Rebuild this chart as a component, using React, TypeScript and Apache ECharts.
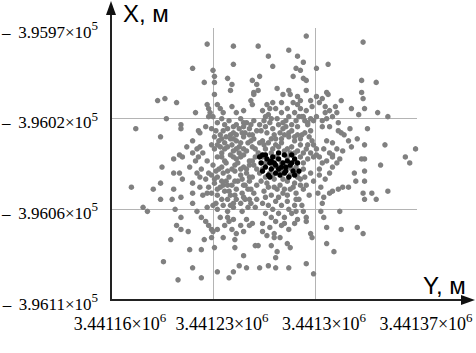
import React, { useEffect, useRef } from "react";
import * as echarts from "echarts";

// Local coordinate bases (metres). Horizontal axis = Y (easting), vertical axis = X (northing).
const Y_BASE = 3441000;
const X_BASE = -396000;

// Axis tick values (metres)
const yTickValues = [3441160, 3441230, 3441300, 3441370];
const xTickValues = [-396108, -396063, -396018, -395973];

// Gray measurement points: [Y offset from Y_BASE, X offset from X_BASE] in metres
const grayOuterNW: [number, number][] = [
  [226,19],[244,18],[261,18],[244,9],[216,7],[230,6],[231,3],[231,0],[240,2],[224,0],
  [243,-1],[257,1],[260,-1],[242,-4],[258,-5],[258,-6],[231,-6],[192,-9],[197,-8],[205,-10],
  [226,-11],[227,-13],[228,-15],[218,-15],[233,-11],[235,-13],[237,-15],[243,-12],[246,-15],[251,-14],
  [256,-9],[257,-11],[198,-18],[177,-23],[208,-21],[208,-23],[220,-24],[221,-25],[225,-22],[194,-27],
  [216,-29],[212,-32],[219,-33],[221,-32],[203,-38],[207,-36],[209,-37],[216,-35],[220,-37],[227,-17],[230,-17],
];
const grayOuterNE: [number, number][] = [
  [294,23],[333,20],[282,16],[288,13],[268,13],[271,8],[292,10],[287,7],[290,6],[309,9],
  [301,7],[285,3],[292,2],[294,1],[262,3],[332,1],[342,0],[261,-4],[274,-3],[282,-4],
  [283,-6],[294,-4],[308,-5],[309,-6],[332,-5],[333,-8],[301,-7],[305,-8],[318,-9],[288,-7],
  [290,-9],[285,-10],[288,-11],[297,-9],[278,-6],[277,-10],[267,-11],[269,-13],[271,-10],[303,-10],
  [307,-12],[310,-14],[314,-12],[307,-15],[315,-15],[325,-13],[334,-13],[343,-15],[330,-16],[350,-17],
  [301,-17],[305,-19],[308,-18],[312,-17],[316,-20],[297,-18],[295,-20],[292,-17],[305,-22],[310,-22],
  [316,-24],[324,-23],[336,-23],[318,-25],[320,-26],[323,-29],[329,-28],[334,-31],[325,-32],[348,-31],
  [369,-33],[362,-37],[308,-29],[312,-30],[315,-33],[306,-33],[310,-35],[319,-34],[312,-37],[298,-29],
  [299,-31],[301,-33],[297,-35],[303,-37],[332,-38],
];
const grayOuterSW: [number, number][] = [
  [174,-52],[189,-53],[194,-50],[195,-42],[203,-45],[207,-45],[209,-48],[203,-53],[202,-58],[208,-57],
  [194,-58],[182,-62],[185,-64],[204,-63],[216,-50],[216,-55],[216,-60],[214,-42],[219,-45],[221,-52],
  [223,-56],[219,-64],[208,-67],[205,-71],[208,-73],[213,-74],[222,-67],[225,-69],[227,-71],[229,-73],
  [226,-62],[230,-61],[233,-63],[226,-55],[227,-52],[201,-78],[214,-83],[222,-83],[224,-78],[229,-77],
  [230,-74],[231,-82],[237,-77],[245,-78],[245,-82],[196,-89],[216,-92],[206,-98],[222,-97],[233,-94],
  [241,-97],[244,-94],[248,-91],[253,-92],[251,-86],[259,-81],[261,-81],[235,-67],[240,-67],[244,-68],
  [240,-64],[250,-64],[253,-68],[255,-71],[257,-70],[251,-57],[255,-58],[260,-58],[237,-61],[242,-61],[244,-62],
];
const grayOuterSE: [number, number][] = [
  [365,-40],[345,-41],[334,-38],[334,-44],[327,-45],[328,-49],[334,-49],[323,-52],[319,-52],[350,-54],
  [333,-55],[339,-55],[342,-58],[334,-58],[316,-53],[312,-54],[310,-55],[317,-64],[329,-72],[333,-75],
  [318,-73],[308,-72],[306,-67],[304,-64],[308,-80],[313,-84],[299,-95],[294,-90],[297,-75],[298,-77],
  [282,-92],[273,-92],[268,-91],[262,-92],[273,-87],[274,-84],[281,-80],[283,-82],[270,-81],[272,-77],
  [272,-75],[294,-69],[294,-67],[292,-64],[291,-61],[305,-60],[306,-57],[302,-55],[304,-52],[310,-45],
  [312,-42],[315,-40],[317,-38],[305,-40],[303,-43],[303,-46],[307,-48],[299,-37],[301,-36],[308,-39],[312,-36],
];
const grayCoreNW: [number, number][] = [
  [233,-20],[238,-21],[241,-19],[246,-21],[249,-18],[253,-20],[258,-19],[262,-21],
  [232,-24],[235,-26],[240,-23],[244,-25],[248,-23],[252,-25],[255,-23],[260,-24],
  [234,-29],[238,-30],[242,-28],[246,-29],[251,-27],[254,-30],[258,-28],[262,-30],
  [231,-33],[236,-35],[240,-32],[244,-34],[248,-32],[253,-34],[257,-32],[261,-35],
  [233,-37],[238,-39],[242,-36],[246,-38],[251,-36],[255,-39],[259,-37],
  [229,-31],[231,-27],[229,-23],[239,-27],[246,-26],[251,-22],[243,-31],[255,-26],[248,-35],[235,-32],
  [223,-35],[226,-39],[222,-43],[227,-45],[225,-48],[218,-39],[221,-47],
  [236,-18],[244,-22],[251,-20],[256,-21],[237,-24],[242,-26],[250,-25],[257,-26],[236,-28],[244,-28],
  [249,-30],[256,-29],[233,-31],[238,-33],[246,-33],[251,-33],[259,-33],[236,-37],[244,-37],[249,-37],[257,-39],
];
const grayCoreNE: [number, number][] = [
  [264,-14],[268,-16],[273,-13],[277,-15],[281,-13],[286,-15],[290,-13],[294,-14],[298,-12],
  [265,-19],[269,-20],[274,-18],[278,-20],[282,-17],[287,-19],[291,-17],[295,-21],[299,-19],
  [263,-24],[267,-25],[271,-23],[276,-25],[280,-22],[284,-24],[288,-22],[293,-25],[297,-24],
  [264,-29],[268,-30],[273,-28],[277,-30],[282,-27],[286,-29],[290,-28],[295,-31],
  [266,-33],[270,-35],[275,-32],[279,-34],[284,-32],[288,-34],[292,-35],
  [266,-17],[275,-21],[284,-21],[270,-28],[279,-26],[288,-26],[273,-31],[283,-35],
  [266,-22],[272,-26],[278,-23],[282,-25],[286,-27],[291,-26],[296,-27],[265,-31],[271,-33],[277,-28],
  [281,-33],[286,-35],[290,-31],[294,-33],[270,-18],[280,-19],[289,-17],[293,-19],
];
const grayCoreSW: [number, number][] = [
  [230,-41],[234,-43],[239,-40],[243,-43],[247,-40],[251,-42],[255,-41],[260,-43],
  [229,-46],[233,-47],[237,-45],[241,-47],[245,-44],[249,-46],[253,-45],[257,-47],[262,-45],
  [231,-50],[235,-52],[239,-49],[243,-51],[247,-49],[251,-51],[255,-49],[260,-51],
  [229,-55],[233,-56],[238,-54],[242,-56],[246,-53],[250,-55],[254,-53],[258,-55],
  [232,-60],[236,-58],[246,-58],[249,-60],[259,-62],[264,-60],[254,-62],
  [238,-71],[243,-73],[249,-71],[233,-73],[246,-75],[251,-74],[241,-69],
  [232,-44],[236,-42],[240,-44],[245,-41],[249,-43],[253,-43],[258,-41],[231,-48],[236,-49],[240,-51],
  [245,-49],[250,-48],[255,-47],[233,-53],[237,-51],[241,-54],[245,-56],[252,-51],[256,-53],[240,-58],
  [244,-60],[252,-58],[256,-60],
];
const grayCoreSE: [number, number][] = [
  [264,-37],[268,-39],[273,-37],[277,-40],[281,-37],[286,-39],[290,-37],[295,-38],
  [264,-43],[269,-45],[274,-42],[279,-44],[284,-43],[288,-45],[292,-43],[297,-45],
  [263,-49],[267,-50],[272,-48],[276,-51],[281,-49],[286,-50],[290,-48],[294,-51],[299,-49],
  [265,-54],[270,-56],[274,-53],[278,-55],[283,-53],[287,-55],[292,-53],[296,-56],
  [268,-61],[273,-59],[277,-61],[281,-59],[286,-61],[289,-58],
  [266,-65],[270,-67],[275,-65],[279,-67],[284,-65],[288,-68],
  [264,-70],[269,-72],[277,-71],[282,-73],[286,-70],
  [267,-76],[276,-77],[264,-74],
  [266,-40],[271,-42],[276,-44],[282,-42],[287,-42],[292,-40],[266,-47],[271,-46],[278,-48],[283,-46],
  [288,-47],[293,-47],[268,-52],[272,-52],[279,-53],[285,-52],[290,-51],[266,-57],[275,-57],[281,-56],
  [287,-58],[271,-63],[282,-63],[287,-64],[273,-69],[279,-70],
];

// Black (highlighted) points
const blackPoints: [number, number][] = [
  [262,-37],[264,-36],[267,-38],[263,-40],[266,-42],[269,-40],[271,-37],[273,-41],[270,-43],[268,-46],
  [275,-38],[277,-42],[279,-45],[276,-46],[281,-39],[283,-41],[285,-44],[282,-47],[286,-38],[288,-40],
  [289,-44],[279,-36],[273,-45],[264,-44],[284,-36],[280,-42],[275,-35],[269,-47],[286,-46],[266,-36],
  [272,-40],[278,-40],[284,-40],[270,-39],[280,-44],[275,-43],
];

const grayPoints = [
  ...grayOuterNW, ...grayOuterNE, ...grayOuterSW, ...grayOuterSE,
  ...grayCoreNW, ...grayCoreNE, ...grayCoreSW, ...grayCoreSE,
];

const toCoords = (pts: [number, number][]) => pts.map(([dy, dx]) => [Y_BASE + dy, X_BASE + dx]);

const SERIF = "'Liberation Serif', 'Times New Roman', serif";
const SANS = "'Liberation Sans', Arial, sans-serif";

export default function App() {
  const ref = useRef<HTMLDivElement>(null);

  useEffect(() => {
    document.body.style.margin = "0";
    if (!ref.current) return;
    const chart = echarts.init(ref.current, undefined, { renderer: "svg" });

    const yStep = yTickValues[1] - yTickValues[0];
    const xStep = xTickValues[1] - xTickValues[0];

    chart.setOption({
      animation: false,
      backgroundColor: "#fff",
      grid: {
        left: 111,
        right: 59,
        top: 28,
        bottom: 53,
        containLabel: false,
        outerBoundsMode: "none",
      },
      xAxis: {
        type: "value",
        min: yTickValues[0],
        max: yTickValues[yTickValues.length - 1],
        interval: yStep,
        axisLine: { show: false },
        axisTick: { show: false },
        splitLine: {
          show: true,
          showMinLine: false,
          showMaxLine: false,
          lineStyle: { color: "#b4b4b4", width: 1 },
        },
        axisLabel: {
          show: true,
          showMinLabel: true,
          showMaxLabel: true,
          margin: 11,
          align: "center",
          padding: [0, 0, 0, 18],
          formatter: (v: number) =>
            `{a|${parseFloat((v / 1e6).toPrecision(6))}×10}{s|6}`,
          rich: {
            a: { fontFamily: SERIF, fontSize: 18, lineHeight: 18, color: "#000", padding: [8, 0, 0, 0] },
            s: { fontFamily: SERIF, fontSize: 13, lineHeight: 13, color: "#000", verticalAlign: "top" },
          },
        },
      },
      yAxis: {
        type: "value",
        min: xTickValues[0],
        max: xTickValues[xTickValues.length - 1],
        interval: xStep,
        axisLine: { show: false },
        axisTick: { show: false },
        splitLine: {
          show: true,
          showMinLine: false,
          showMaxLine: false,
          lineStyle: { color: "#b4b4b4", width: 1 },
        },
        axisLabel: {
          show: true,
          showMinLabel: true,
          showMaxLabel: true,
          margin: 13,
          formatter: (v: number) =>
            `{a|\u2013\u00a0\u2009${parseFloat((Math.abs(v) / 1e5).toPrecision(5))}×10}{s|5}`,
          rich: {
            a: { fontFamily: SERIF, fontSize: 17, lineHeight: 18, color: "#000", padding: [8, 0, 0, 0] },
            s: { fontFamily: SERIF, fontSize: 13, lineHeight: 13, color: "#000", verticalAlign: "top" },
          },
        },
      },
      series: [
        {
          type: "scatter",
          data: toCoords(grayPoints),
          symbol: "circle",
          symbolSize: 5.5,
          itemStyle: { color: "#808080", opacity: 1 },
          silent: true,
          z: 2,
        },
        {
          type: "scatter",
          data: toCoords(blackPoints),
          symbol: "circle",
          symbolSize: 5.5,
          itemStyle: { color: "#000", opacity: 1 },
          silent: true,
          z: 3,
        },
      ],
      graphic: [
        {
          type: "line",
          shape: { x1: 111, y1: 301, x2: 111, y2: 12 },
          style: { stroke: "#222", lineWidth: 2 },
          z: 10,
        },
        {
          type: "polygon",
          shape: { points: [[111, 1], [106, 15], [116, 15]] },
          style: { fill: "#111" },
          z: 10,
        },
        {
          type: "line",
          shape: { x1: 110, y1: 300, x2: 463, y2: 300 },
          style: { stroke: "#222", lineWidth: 2 },
          z: 10,
        },
        {
          type: "polygon",
          shape: { points: [[475, 300], [461, 295], [461, 305]] },
          style: { fill: "#111" },
          z: 10,
        },
        {
          type: "text",
          x: 123,
          y: 13,
          style: { text: "X, м", fontFamily: SANS, fontSize: 24, fill: "#000", align: "left", verticalAlign: "middle" },
          z: 10,
        },
        {
          type: "text",
          x: 423,
          y: 285,
          style: { text: "Y, м", fontFamily: SANS, fontSize: 24, fill: "#000", align: "left", verticalAlign: "middle" },
          z: 10,
        },
      ],
    });

    return () => chart.dispose();
  }, []);

  return (
    <div
      ref={ref}
      style={{ position: "fixed", left: 0, top: 0, width: 476, height: 353 }}
    />
  );
}
